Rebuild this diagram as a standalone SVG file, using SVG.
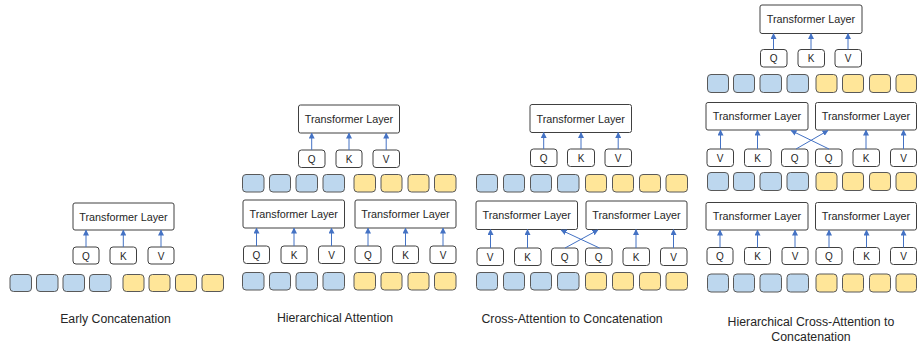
<svg xmlns="http://www.w3.org/2000/svg" width="917" height="346" viewBox="0 0 917 346">
<defs>
<style>
.tl{fill:#fff;stroke:#404040;stroke-width:1}
.qkv{fill:#fff;stroke:#404040;stroke-width:1}
.b{fill:#BDD7EE;stroke:#595959;stroke-width:1}
.y{fill:#FFE699;stroke:#595959;stroke-width:1}
.t{font-family:"Liberation Sans",Arial,sans-serif;font-size:10px;fill:#262626;text-anchor:middle}
.tt{font-size:10.8px}
.lab{font-family:"Liberation Sans",Arial,sans-serif;font-size:12.3px;fill:#262626;text-anchor:middle}
.ar{stroke:#4472C4;stroke-width:1;fill:none;marker-end:url(#ah)}
</style>
<marker id="ah" markerUnits="userSpaceOnUse" markerWidth="6" markerHeight="6" viewBox="0 0 6 6" refX="5.5" refY="3" orient="auto">
<path d="M0,0 L6,3 L0,6 z" fill="#4472C4"/>
</marker>
</defs>
<rect width="917" height="346" fill="#fff"/>

<!-- Panel 1 -->
<g id="p1-tl"><rect class="tl" x="73" y="203" width="101" height="27" rx="2"/><text class="t tt" x="123.5" y="220.5">Transformer Layer</text></g>
<g id="p1-q"><rect class="qkv" x="73" y="247" width="26" height="17" rx="3"/><text class="t" x="86" y="259.5">Q</text></g>
<g id="p1-k"><rect class="qkv" x="110" y="247" width="26.5" height="17" rx="3"/><text class="t" x="123.3" y="259.5">K</text></g>
<g id="p1-v"><rect class="qkv" x="148" y="247" width="26" height="17" rx="3"/><text class="t" x="161" y="259.5">V</text></g>
<g id="p1-tokens">
<rect class="b" x="10" y="274.5" width="21.5" height="17" rx="3.5"/>
<rect class="b" x="36.5" y="274.5" width="21.5" height="17" rx="3.5"/>
<rect class="b" x="63" y="274.5" width="21.5" height="17" rx="3.5"/>
<rect class="b" x="89.5" y="274.5" width="21.5" height="17" rx="3.5"/>
<rect class="y" x="123" y="274.5" width="21" height="17" rx="3.5"/>
<rect class="y" x="149" y="274.5" width="21" height="17" rx="3.5"/>
<rect class="y" x="175.5" y="274.5" width="21" height="17" rx="3.5"/>
<rect class="y" x="202" y="274.5" width="21.5" height="17" rx="3.5"/>
</g>
<text class="lab" x="115.5" y="323">Early Concatenation</text>

<!-- Panel 2 -->
<g id="p2-tl-top"><rect class="tl" x="298.5" y="105" width="101" height="28" rx="2"/><text class="t tt" x="349" y="123">Transformer Layer</text></g>
<g id="p2-q-top"><rect class="qkv" x="298.5" y="150" width="26.5" height="17.5" rx="3"/><text class="t" x="311.7" y="162.5">Q</text></g>
<g id="p2-k-top"><rect class="qkv" x="336" y="150" width="26" height="17.5" rx="3"/><text class="t" x="349" y="162.5">K</text></g>
<g id="p2-v-top"><rect class="qkv" x="373" y="150" width="26.5" height="17.5" rx="3"/><text class="t" x="386.2" y="162.5">V</text></g>
<g id="p2-tokens-mid">
<rect class="b" x="242.5" y="174.5" width="21.5" height="17.5" rx="3.5"/>
<rect class="b" x="269.5" y="174.5" width="21" height="17.5" rx="3.5"/>
<rect class="b" x="296" y="174.5" width="21.5" height="17.5" rx="3.5"/>
<rect class="b" x="323" y="174.5" width="21.5" height="17.5" rx="3.5"/>
<rect class="y" x="354" y="174.5" width="21.5" height="17.5" rx="3.5"/>
<rect class="y" x="381" y="174.5" width="21" height="17.5" rx="3.5"/>
<rect class="y" x="408" y="174.5" width="21" height="17.5" rx="3.5"/>
<rect class="y" x="434.5" y="174.5" width="21.5" height="17.5" rx="3.5"/>
</g>
<g id="p2-tl-left"><rect class="tl" x="243" y="200" width="101.5" height="28" rx="2"/><text class="t tt" x="293.7" y="218">Transformer Layer</text></g>
<g id="p2-tl-right"><rect class="tl" x="355" y="200" width="101" height="28" rx="2"/><text class="t tt" x="405.5" y="218">Transformer Layer</text></g>
<g id="p2-q1"><rect class="qkv" x="243.5" y="246" width="26" height="17.5" rx="3"/><text class="t" x="256.5" y="258.5">Q</text></g>
<g id="p2-k1"><rect class="qkv" x="281" y="246" width="26" height="17.5" rx="3"/><text class="t" x="294" y="258.5">K</text></g>
<g id="p2-v1"><rect class="qkv" x="318.5" y="246" width="26" height="17.5" rx="3"/><text class="t" x="331.5" y="258.5">V</text></g>
<g id="p2-q2"><rect class="qkv" x="355" y="246" width="26" height="17.5" rx="3"/><text class="t" x="368" y="258.5">Q</text></g>
<g id="p2-k2"><rect class="qkv" x="392.5" y="246" width="26" height="17.5" rx="3"/><text class="t" x="405.5" y="258.5">K</text></g>
<g id="p2-v2"><rect class="qkv" x="430" y="246" width="26" height="17.5" rx="3"/><text class="t" x="443" y="258.5">V</text></g>
<g id="p2-tokens-bot">
<rect class="b" x="242.5" y="272.5" width="21.5" height="17.5" rx="3.5"/>
<rect class="b" x="269.5" y="272.5" width="21" height="17.5" rx="3.5"/>
<rect class="b" x="296" y="272.5" width="21.5" height="17.5" rx="3.5"/>
<rect class="b" x="323" y="272.5" width="21.5" height="17.5" rx="3.5"/>
<rect class="y" x="354" y="272.5" width="21.5" height="17.5" rx="3.5"/>
<rect class="y" x="381" y="272.5" width="21" height="17.5" rx="3.5"/>
<rect class="y" x="408" y="272.5" width="21" height="17.5" rx="3.5"/>
<rect class="y" x="434.5" y="272.5" width="21.5" height="17.5" rx="3.5"/>
</g>
<text class="lab" x="335" y="322">Hierarchical Attention</text>

<!-- Panel 3 -->
<g id="p3-tl-top"><rect class="tl" x="530" y="104.5" width="101.5" height="28" rx="2"/><text class="t tt" x="580.7" y="122.5">Transformer Layer</text></g>
<g id="p3-q-top"><rect class="qkv" x="530.5" y="149" width="26.5" height="17.5" rx="3"/><text class="t" x="543.7" y="161.5">Q</text></g>
<g id="p3-k-top"><rect class="qkv" x="567.5" y="149" width="27" height="17.5" rx="3"/><text class="t" x="581" y="161.5">K</text></g>
<g id="p3-v-top"><rect class="qkv" x="605" y="149" width="26.5" height="17.5" rx="3"/><text class="t" x="618.2" y="161.5">V</text></g>
<g id="p3-tokens-mid">
<rect class="b" x="476.5" y="174.5" width="21" height="17.5" rx="3.5"/>
<rect class="b" x="503.5" y="174.5" width="21" height="17.5" rx="3.5"/>
<rect class="b" x="530.5" y="174.5" width="21" height="17.5" rx="3.5"/>
<rect class="b" x="557.5" y="174.5" width="21.5" height="17.5" rx="3.5"/>
<rect class="y" x="585.5" y="174.5" width="21" height="17.5" rx="3.5"/>
<rect class="y" x="612.5" y="174.5" width="21" height="17.5" rx="3.5"/>
<rect class="y" x="639.5" y="174.5" width="21" height="17.5" rx="3.5"/>
<rect class="y" x="666" y="174.5" width="21.5" height="17.5" rx="3.5"/>
</g>
<g id="p3-tl-left"><rect class="tl" x="476" y="201" width="101.5" height="28.5" rx="2"/><text class="t tt" x="526.7" y="219">Transformer Layer</text></g>
<g id="p3-tl-right"><rect class="tl" x="586" y="201" width="101" height="28.5" rx="2"/><text class="t tt" x="636.5" y="219">Transformer Layer</text></g>
<g id="p3-v1"><rect class="qkv" x="477" y="248" width="26.5" height="17.5" rx="3"/><text class="t" x="490.2" y="260.5">V</text></g>
<g id="p3-k1"><rect class="qkv" x="514.5" y="248" width="26.5" height="17.5" rx="3"/><text class="t" x="527.7" y="260.5">K</text></g>
<g id="p3-q1"><rect class="qkv" x="551.5" y="248" width="26.5" height="17.5" rx="3"/><text class="t" x="564.7" y="260.5">Q</text></g>
<g id="p3-q2"><rect class="qkv" x="585.5" y="248" width="26.5" height="17.5" rx="3"/><text class="t" x="598.7" y="260.5">Q</text></g>
<g id="p3-k2"><rect class="qkv" x="623" y="248" width="26.5" height="17.5" rx="3"/><text class="t" x="636.2" y="260.5">K</text></g>
<g id="p3-v2"><rect class="qkv" x="660.5" y="248" width="26.5" height="17.5" rx="3"/><text class="t" x="673.7" y="260.5">V</text></g>
<g id="p3-tokens-bot">
<rect class="b" x="476.5" y="272.5" width="21" height="17.5" rx="3.5"/>
<rect class="b" x="503.5" y="272.5" width="21" height="17.5" rx="3.5"/>
<rect class="b" x="530.5" y="272.5" width="21" height="17.5" rx="3.5"/>
<rect class="b" x="557.5" y="272.5" width="21.5" height="17.5" rx="3.5"/>
<rect class="y" x="585.5" y="272.5" width="21" height="17.5" rx="3.5"/>
<rect class="y" x="612.5" y="272.5" width="21" height="17.5" rx="3.5"/>
<rect class="y" x="639.5" y="272.5" width="21" height="17.5" rx="3.5"/>
<rect class="y" x="666" y="272.5" width="21.5" height="17.5" rx="3.5"/>
</g>
<text class="lab" x="572" y="323">Cross-Attention to Concatenation</text>

<!-- Panel 4 -->
<g id="p4-tl-top"><rect class="tl" x="760" y="5" width="102" height="28.5" rx="2"/><text class="t tt" x="811" y="23">Transformer Layer</text></g>
<g id="p4-q-top"><rect class="qkv" x="760.5" y="49.5" width="26.5" height="17.5" rx="3"/><text class="t" x="773.7" y="62">Q</text></g>
<g id="p4-k-top"><rect class="qkv" x="798" y="49.5" width="26.5" height="17.5" rx="3"/><text class="t" x="811.2" y="62">K</text></g>
<g id="p4-v-top"><rect class="qkv" x="835" y="49.5" width="26.5" height="17.5" rx="3"/><text class="t" x="848.2" y="62">V</text></g>
<g id="p4-tokens-1">
<rect class="b" x="707.5" y="74.5" width="21" height="18" rx="3.5"/>
<rect class="b" x="733.5" y="74.5" width="21" height="18" rx="3.5"/>
<rect class="b" x="760" y="74.5" width="21.5" height="18" rx="3.5"/>
<rect class="b" x="787" y="74.5" width="21.5" height="18" rx="3.5"/>
<rect class="y" x="816" y="74.5" width="21" height="18" rx="3.5"/>
<rect class="y" x="842.5" y="74.5" width="21" height="18" rx="3.5"/>
<rect class="y" x="869.5" y="74.5" width="21" height="18" rx="3.5"/>
<rect class="y" x="896" y="74.5" width="20.5" height="18" rx="3.5"/>
</g>
<g id="p4-tl-mid-left"><rect class="tl" x="706" y="102.5" width="102" height="27.5" rx="2"/><text class="t tt" x="757" y="120">Transformer Layer</text></g>
<g id="p4-tl-mid-right"><rect class="tl" x="815.5" y="102.5" width="101" height="27.5" rx="2"/><text class="t tt" x="866" y="120">Transformer Layer</text></g>
<g id="p4-v1"><rect class="qkv" x="707" y="149" width="26.5" height="17.5" rx="3"/><text class="t" x="720.2" y="161.5">V</text></g>
<g id="p4-k1"><rect class="qkv" x="744.5" y="149" width="26.5" height="17.5" rx="3"/><text class="t" x="757.7" y="161.5">K</text></g>
<g id="p4-q1"><rect class="qkv" x="781.5" y="149" width="26.5" height="17.5" rx="3"/><text class="t" x="794.7" y="161.5">Q</text></g>
<g id="p4-q2"><rect class="qkv" x="815.5" y="149" width="26.5" height="17.5" rx="3"/><text class="t" x="828.7" y="161.5">Q</text></g>
<g id="p4-k2"><rect class="qkv" x="853" y="149" width="26.5" height="17.5" rx="3"/><text class="t" x="866.2" y="161.5">K</text></g>
<g id="p4-v2"><rect class="qkv" x="890.5" y="149" width="26" height="17.5" rx="3"/><text class="t" x="903.5" y="161.5">V</text></g>
<g id="p4-tokens-2">
<rect class="b" x="707.5" y="172.5" width="21" height="18" rx="3.5"/>
<rect class="b" x="733.5" y="172.5" width="21" height="18" rx="3.5"/>
<rect class="b" x="760" y="172.5" width="21.5" height="18" rx="3.5"/>
<rect class="b" x="787" y="172.5" width="21.5" height="18" rx="3.5"/>
<rect class="y" x="816" y="172.5" width="21" height="18" rx="3.5"/>
<rect class="y" x="842.5" y="172.5" width="21" height="18" rx="3.5"/>
<rect class="y" x="869.5" y="172.5" width="21" height="18" rx="3.5"/>
<rect class="y" x="896" y="172.5" width="20.5" height="18" rx="3.5"/>
</g>
<g id="p4-tl-bot-left"><rect class="tl" x="706" y="202.5" width="102" height="27.5" rx="2"/><text class="t tt" x="757" y="220">Transformer Layer</text></g>
<g id="p4-tl-bot-right"><rect class="tl" x="815.5" y="202.5" width="101" height="27.5" rx="2"/><text class="t tt" x="866" y="220">Transformer Layer</text></g>
<g id="p4-q3"><rect class="qkv" x="707" y="247.5" width="26" height="17" rx="3"/><text class="t" x="720" y="259.5">Q</text></g>
<g id="p4-k3"><rect class="qkv" x="744.5" y="247.5" width="26" height="17" rx="3"/><text class="t" x="757.5" y="259.5">K</text></g>
<g id="p4-v3"><rect class="qkv" x="782" y="247.5" width="26" height="17" rx="3"/><text class="t" x="795" y="259.5">V</text></g>
<g id="p4-q4"><rect class="qkv" x="816" y="247.5" width="26" height="17" rx="3"/><text class="t" x="829" y="259.5">Q</text></g>
<g id="p4-k4"><rect class="qkv" x="853.5" y="247.5" width="26" height="17" rx="3"/><text class="t" x="866.5" y="259.5">K</text></g>
<g id="p4-v4"><rect class="qkv" x="890.5" y="247.5" width="26" height="17" rx="3"/><text class="t" x="903.5" y="259.5">V</text></g>
<g id="p4-tokens-3">
<rect class="b" x="707.5" y="274" width="21" height="18" rx="3.5"/>
<rect class="b" x="733.5" y="274" width="21" height="18" rx="3.5"/>
<rect class="b" x="760" y="274" width="21.5" height="18" rx="3.5"/>
<rect class="b" x="787" y="274" width="21.5" height="18" rx="3.5"/>
<rect class="y" x="816" y="274" width="21" height="18" rx="3.5"/>
<rect class="y" x="842.5" y="274" width="21" height="18" rx="3.5"/>
<rect class="y" x="869.5" y="274" width="21" height="18" rx="3.5"/>
<rect class="y" x="896" y="274" width="20.5" height="18" rx="3.5"/>
</g>
<text class="lab" x="811" y="325.5">Hierarchical Cross-Attention to</text>
<text class="lab" x="811" y="340.5">Concatenation</text>

<!-- Connectors -->
<g id="connectors">
<line class="ar" x1="86" y1="247" x2="86" y2="230"/>
<line class="ar" x1="123.3" y1="247" x2="123.3" y2="230"/>
<line class="ar" x1="161" y1="247" x2="161" y2="230"/>

<line class="ar" x1="311.7" y1="150" x2="311.7" y2="133"/>
<line class="ar" x1="349" y1="150" x2="349" y2="133"/>
<line class="ar" x1="386.2" y1="150" x2="386.2" y2="133"/>
<line class="ar" x1="256.5" y1="246" x2="256.5" y2="228"/>
<line class="ar" x1="294" y1="246" x2="294" y2="228"/>
<line class="ar" x1="331.5" y1="246" x2="331.5" y2="228"/>
<line class="ar" x1="368" y1="246" x2="368" y2="228"/>
<line class="ar" x1="405.5" y1="246" x2="405.5" y2="228"/>
<line class="ar" x1="443" y1="246" x2="443" y2="228"/>

<line class="ar" x1="543.7" y1="149" x2="543.7" y2="132.5"/>
<line class="ar" x1="581" y1="149" x2="581" y2="132.5"/>
<line class="ar" x1="618.2" y1="149" x2="618.2" y2="132.5"/>
<line class="ar" x1="490.5" y1="248" x2="490.5" y2="229.5"/>
<line class="ar" x1="527.5" y1="248" x2="527.5" y2="229.5"/>
<line class="ar" x1="565" y1="248" x2="598" y2="230"/>
<line class="ar" x1="599.5" y1="248" x2="561" y2="230"/>
<line class="ar" x1="636" y1="248" x2="636" y2="229.5"/>
<line class="ar" x1="673.5" y1="248" x2="673.5" y2="229.5"/>

<line class="ar" x1="773.5" y1="49.5" x2="773.5" y2="33.5"/>
<line class="ar" x1="811" y1="49.5" x2="811" y2="33.5"/>
<line class="ar" x1="848" y1="49.5" x2="848" y2="33.5"/>
<line class="ar" x1="720.5" y1="149" x2="720.5" y2="130"/>
<line class="ar" x1="757.5" y1="149" x2="757.5" y2="130"/>
<line class="ar" x1="796" y1="149" x2="828" y2="130.5"/>
<line class="ar" x1="829" y1="149" x2="791" y2="130.5"/>
<line class="ar" x1="866" y1="149" x2="866" y2="130"/>
<line class="ar" x1="903.5" y1="149" x2="903.5" y2="130"/>
<line class="ar" x1="720" y1="247.5" x2="720" y2="230"/>
<line class="ar" x1="757.5" y1="247.5" x2="757.5" y2="230"/>
<line class="ar" x1="795" y1="247.5" x2="795" y2="230"/>
<line class="ar" x1="829" y1="247.5" x2="829" y2="230"/>
<line class="ar" x1="866.5" y1="247.5" x2="866.5" y2="230"/>
<line class="ar" x1="903.5" y1="247.5" x2="903.5" y2="230"/>
</g>
</svg>
